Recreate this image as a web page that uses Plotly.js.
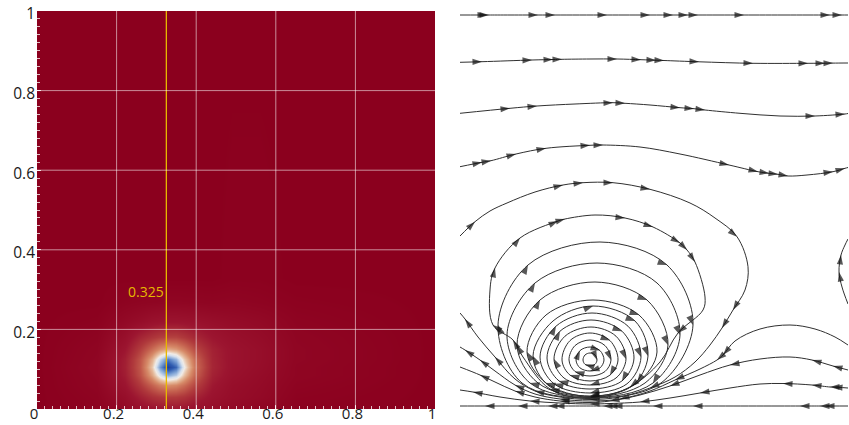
<!DOCTYPE html>
<html><head><meta charset="utf-8">
<script src="https://cdn.plot.ly/plotly-3.0.1.min.js"></script>
<style>html,body{margin:0;padding:0;background:#fff}</style>
</head><body><div id="chart" style="width:849px;height:425px"></div>
<script>
// ---------- left panel: scalar field ----------
const heatX = [0, 0.15, 0.22, 0.26, 0.29, 0.31, 0.33, 0.35, 0.37, 0.40, 0.44, 0.49, 0.56, 0.65, 1];
const heatY = [0, 0.03, 0.06, 0.085, 0.105, 0.125, 0.15, 0.18, 0.22, 0.27, 0.33, 1];
const heatZ = [
  [1, 0.98, 0.925, 0.885, 0.855, 0.845, 0.84, 0.84, 0.85, 0.88, 0.90, 0.93, 0.96, 0.99, 1],
  [1, 0.97, 0.89, 0.81, 0.755, 0.73, 0.72, 0.725, 0.745, 0.80, 0.86, 0.90, 0.93, 0.98, 1],
  [1, 0.96, 0.845, 0.725, 0.615, 0.545, 0.51, 0.53, 0.59, 0.705, 0.83, 0.89, 0.92, 0.97, 1],
  [1, 0.955, 0.815, 0.66, 0.465, 0.295, 0.19, 0.245, 0.415, 0.63, 0.80, 0.87, 0.91, 0.96, 1],
  [1, 0.95, 0.805, 0.64, 0.40, 0.16, 0.015, 0.095, 0.33, 0.60, 0.785, 0.86, 0.90, 0.96, 1],
  [1, 0.955, 0.81, 0.65, 0.45, 0.26, 0.13, 0.21, 0.395, 0.62, 0.79, 0.86, 0.895, 0.955, 1],
  [1, 0.96, 0.84, 0.71, 0.59, 0.51, 0.46, 0.49, 0.56, 0.69, 0.80, 0.86, 0.895, 0.955, 1],
  [1, 0.97, 0.88, 0.79, 0.74, 0.71, 0.70, 0.70, 0.73, 0.785, 0.84, 0.88, 0.91, 0.96, 1],
  [1, 0.985, 0.93, 0.90, 0.87, 0.86, 0.855, 0.855, 0.86, 0.87, 0.89, 0.91, 0.93, 0.97, 1],
  [1, 1, 0.975, 0.965, 0.96, 0.957, 0.955, 0.955, 0.957, 0.96, 0.965, 0.96, 0.97, 0.985, 1],
  [1, 1, 1, 1, 1, 1, 1, 1, 1, 1, 1, 0.99, 0.99, 1, 1],
  [1, 1, 1, 1, 1, 1, 1, 1, 1, 1, 1, 1, 1, 1, 1]
];
const probeX = 0.325;
const probeLabel = '0.325';
const probeLabelPos = [0.275, 0.296];
const xTicks = [0, 0.2, 0.4, 0.6, 0.8, 1];
const yTicks = [0.2, 0.4, 0.6, 0.8, 1];
const gridVals = [0.2, 0.4, 0.6, 0.8];

// ---------- right panel: streamlines [x, y, arrowFlag] (domain units 0..388 x 0..392) ----------
const slT1 = [[0,392,0],[27,392,1],[29,392,1],[78,392,1],[95,392,1],[147,392,1],[190,392,1],[213,392,1],[228,392,1],[238,392,1],[284,392,1],[370,392,1],[382,392,1],[388,392,0]];
const slT2 = [[0,344.7,0],[22,345.3,1],[72,347,1],[93,347.5,1],[102,347.7,1],[130,348,0],[157,348,1],[181,347.3,1],[196,346.8,1],[204,346.5,1],[239,345.2,1],[293,343.7,1],[348,343.7,1],[365,343.8,1],[373,343.9,1],[388,344,0]];
const slT3 = [[0,293.7,0],[50,298.7,1],[77,301,1],[115,303,0],[153,304.3,1],[165,303.7,1],[190,302,0],[220,299.3,1],[234,298.3,1],[245,297,1],[280,293.7,0],[320,291,0],[355,291,1],[385,293,1],[388,293.5,0]];
const slT4 = [[0,240.3,0],[22,244.7,1],[31,246.3,1],[56,253,1],[86,258.7,1],[130,261.7,1],[143,262,1],[180,260,0],[220,253,0],[269,242,1],[298,235.3,1],[309,233.7,1],[318,232.7,1],[328,231,1],[347,232,0],[373,235.3,1],[385,238.7,1],[388,239.5,0]];
const slA1 = [[0,171,0],[15,185.3,1],[30,196,0],[47,204,0],[75,215,0],[103,222,1],[123,224.3,1],[153,224.3,1],[190,217.7,1],[230,204,0],[255,189,0],[277,170.3,1],[288,140.3,0],[285,117,0],[273,97,1],[262,79,1],[250,62,0],[235,45,0],[215,30,0],[190,19,1],[160,10,0],[130,7.5,1],[100,10,0],[75,16,1],[55,28,0],[35,50,1],[18,70,0],[5,88,1],[0,94,0]];
const slR2 = [[388,19,0],[373,20,1],[370,20,1],[352,22,1],[323,23.5,1],[300,23,0],[270,19,0],[240,14,1],[210,9,0],[180,5,1],[150,3.5,0],[130,3,1],[100,4,0],[70,6,1],[40,10,0],[13,15,1],[0,17,0]];
const slR3 = [[388,37,0],[373,41,1],[352,47,1],[330,50,0],[300,48,0],[270,42,1],[240,32,0],[210,21,1],[180,12,0],[150,6,1],[130,4.5,0],[100,6,1],[75,10,0],[55,16,1],[35,25,0],[20,32,1],[0,40,0]];
const slR4 = [[388,62,0],[375,70,0],[355,78,0],[330,82,0],[300,78,0],[275,66,0],[263,52,1],[257,47,1],[240,38,0],[215,27,1],[190,16,0],[160,8,1],[130,6,0],[100,8,1],[75,13,0],[55,22,1],[35,36,0],[20,47,1],[5,57,1],[0,60,0]];
const slP = [[388,103,0],[382,120,0],[379,135,1],[381,152,1],[385,162,0],[388,168,0]];
const slW = [[388,1,0],[365,1,1],[360,1,1],[340,1,1],[233,1,1],[193,1,1],[153,1,1],[148,1,1],[143,1,1],[95,1,1],[88,1,1],[58,1,1],[25,1,1],[0,1,0]];
const slL1 = [[130,54,0],[135,52,0],[137,47,1],[135,42.7,0],[130,41,0],[125,42.7,1],[123,47,0],[125,52,0],[130,54,0]];
const slL2 = [[130,60,0],[140,56.4,1],[144,47,0],[140,39.1,0],[130,36,1],[120,39.1,0],[116,47,0],[120,56.4,1],[130,60,0]];
const slL3 = [[130,67,0],[145,61.4,0],[151,47,1],[145,35.5,0],[130,31,0],[115,35.5,1],[109,47,0],[115,61.4,0],[130,67,0]];
const slL4 = [[130,74,0],[150,66.4,1],[158,47,0],[150,31.9,1],[130,26,0],[110,31.9,1],[102,47,0],[110,66.4,0],[130,74,0]];
const slL5 = [[131,80,0],[156,70.8,0],[166,48,1],[156,29,0],[130,22,1],[104,29,0],[94,48,1],[105,70.8,0],[131,80,0]];
const slL6 = [[131,87,0],[162,75.8,1],[174,49,0],[162,26.1,1],[130,18,0],[99,26.1,1],[87,49,0],[100,75.8,1],[131,87,0]];
const slL7 = [[132,94,0],[168,80.8,0],[181,50,1],[167,23.2,0],[130,14,1],[94,23.2,1],[80,50,0],[96,80.8,1],[132,94,0]];
const slL8 = [[133,101,0],[175,86,1],[188,51,1],[172,21,0],[130,11,1],[89,21,0],[73,51,1],[93,86,0],[133,101,1]];
const slL9 = [[133,107,0],[179,92,1],[197,55,0],[177,24,1],[130,10.5,0],[86,24,1],[67,55,1],[86,92,0],[133,107,0]];
const slL10 = [[135,125,0],[187,107,1],[208,62,1],[185,24,0],[130,10,1],[78,24,0],[57,62,1],[80,107,1],[135,125,0]];
const slL11 = [[137,144,0],[197,124,0],[220,72,1],[193,24,1],[130,9.5,0],[70,24,1],[47,72,0],[75,124,1],[137,144,0]];
const slL12 = [[140,165,0],[207,142,1],[233,82,1],[201,24,0],[130,9,1],[62,24,0],[38,82,1],[68,142,1],[140,165,0]];
const slL13 = [[135,192,0],[165,189,1],[193,180,1],[220,164,1],[227,157,1],[235,145,1],[245,110,0],[243,97,0],[218,74,1],[200,45,0],[170,20,1],[130,8.5,0],[90,18,1],[63,50,0],[53,67,1],[33,82,1],[30,117,0],[35,139,1],[60,169,1],[98,186,1],[105,188,1],[135,192,0]];

const streamlines = [slT1, slT2, slT3, slT4, slA1, slR2, slR3, slR4, slP, slW,
  slL1, slL2, slL3, slL4, slL5, slL6, slL7, slL8, slL9, slL10, slL11, slL12, slL13];

// ---------- build figure ----------
const colorscale = [
  [0.00, '#1e3c94'], [0.08, '#2f5cb0'], [0.18, '#7fa4d6'], [0.28, '#d5e0ee'],
  [0.34, '#f0ebe6'], [0.42, '#e6bd9f'], [0.52, '#d68a68'], [0.62, '#c4604e'],
  [0.72, '#b03a3c'], [0.84, '#9c1530'], [1.00, '#8b001e']
];

const traces = [{
  type: 'heatmap', x: heatX, y: heatY, z: heatZ, zsmooth: 'best',
  colorscale: colorscale, zmin: 0, zmax: 1, showscale: false, hoverinfo: 'skip',
  xaxis: 'x', yaxis: 'y'
}, {
  type: 'scatter', mode: 'lines', x: [probeX, probeX], y: [0, 1],
  line: {color: '#e6b800', width: 1.3}, xaxis: 'x', yaxis: 'y', hoverinfo: 'skip'
}];

streamlines.forEach(function (s) {
  traces.push({
    type: 'scatter', mode: 'lines+markers',
    x: s.map(p => p[0]), y: s.map(p => p[1]),
    line: {color: '#303030', width: 1, shape: 'spline', smoothing: 1},
    marker: {symbol: 'arrow', angleref: 'previous', color: '#111',
             size: s.map(p => p[2] ? 10 : 0), line: {width: 0}},
    xaxis: 'x2', yaxis: 'y2', hoverinfo: 'skip'
  });
});

const shapes = [];
gridVals.forEach(function (v) {
  shapes.push({type: 'line', xref: 'x', yref: 'y', x0: v, x1: v, y0: 0, y1: 1, layer: 'above',
               line: {color: 'rgba(255,255,255,0.55)', width: 1}});
  shapes.push({type: 'line', xref: 'x', yref: 'y', x0: 0, x1: 1, y0: v, y1: v, layer: 'above',
               line: {color: 'rgba(255,255,255,0.55)', width: 1}});
});

const layout = {
  width: 849, height: 425,
  margin: {l: 37, r: 1, t: 11, b: 16, pad: 0},
  paper_bgcolor: '#ffffff', plot_bgcolor: '#ffffff',
  showlegend: false,
  font: {family: 'Open Sans, sans-serif', size: 16, color: '#1a1a1a'},
  xaxis: {
    domain: [0, 0.49076], range: [0, 1], tickmode: 'array', tickvals: xTicks,
    ticktext: xTicks.map(String), showgrid: false, zeroline: false, showline: false,
    ticks: 'inside', ticklen: 4, tickcolor: 'rgba(255,255,255,0.8)',
    tickfont: {size: 15}, ticklabelstandoff: -6, ticklabelshift: -3, ticklabeloverflow: 'allow',
    minor: {tickmode: 'linear', tick0: 0, dtick: 0.02, ticks: 'inside', ticklen: 3,
            tickcolor: 'rgba(255,255,255,0.75)', showgrid: false},
    fixedrange: true
  },
  yaxis: {
    domain: [0, 1], range: [0, 1], tickmode: 'array', tickvals: yTicks,
    ticktext: yTicks.map(String), showgrid: false, zeroline: false, showline: false,
    ticks: 'inside', ticklen: 4, tickcolor: 'rgba(255,255,255,0.8)',
    tickfont: {size: 15.5}, ticklabelstandoff: 1, ticklabelshift: 3, ticklabeloverflow: 'allow',
    minor: {tickmode: 'linear', tick0: 0, dtick: 0.02, ticks: 'inside', ticklen: 3,
            tickcolor: 'rgba(255,255,255,0.75)', showgrid: false},
    fixedrange: true
  },
  xaxis2: {domain: [0.52158, 1], range: [0, 388], visible: false, anchor: 'y2'},
  yaxis2: {domain: [0, 1], range: [-2, 396], visible: false, anchor: 'x2'},
  shapes: shapes,
  annotations: [{
    xref: 'x', yref: 'y', x: probeLabelPos[0], y: probeLabelPos[1], text: probeLabel,
    showarrow: false, font: {family: 'Open Sans, sans-serif', size: 14, color: '#e6b800'}
  }]
};

Plotly.newPlot('chart', traces, layout, {staticPlot: true, displayModeBar: false});
</script>
</body></html>
